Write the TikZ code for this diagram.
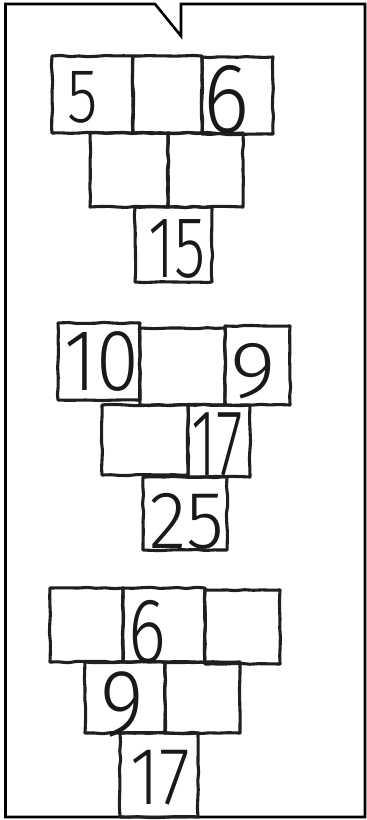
\documentclass[tikz,border=0pt]{standalone}
\usepackage{fontspec}
\IfFontExistsTF{Fira Sans Light}{\newfontfamily\hand{Fira Sans Light}}{\newfontfamily\hand{Fira Sans}}
\usetikzlibrary{decorations.pathmorphing}
\tikzset{
  frameline/.style={line width=2.6pt, draw=black, line join=miter},
  cell/.style={draw=black!88, line width=3.1pt, rectangle, inner sep=0pt, line join=round,
    decorate, decoration={random steps, segment length=9pt, amplitude=0.7pt}},
  digit/.style={font=\hand\fontsize{80}{80}\selectfont, inner sep=0pt, anchor=base,
    text height=0.69em, text depth=0pt, text=black!90},
}
\pgfmathsetseed{7}
\begin{document}
\begin{tikzpicture}[x=1pt, y=-1pt]
\useasboundingbox (0,0) rectangle (367,820);
% frame with speech tail
\coordinate (f1) at (5.5,4);
\coordinate (t1) at (155,4);
\coordinate (t2) at (181,36);
\coordinate (t3) at (181,4);
\coordinate (f2) at (365,4);
\coordinate (f3) at (365,817);
\coordinate (f4) at (5.5,817);
\draw[frameline] (f1) -- (t1) -- (t2) -- (t3) -- (f2) -- (f3) -- (f4) -- cycle;

% pyramid 1
\node[cell, minimum width=81pt, minimum height=77pt] (p1a) at (92.5,94.5) {};
\node[cell, minimum width=69pt, minimum height=77pt] (p1b) at (167.5,94.5) {};
\node[cell, minimum width=71pt, minimum height=77pt] (p1c) at (237.5,95.5) {};
\node[cell, minimum width=78pt, minimum height=74pt] (p1d) at (129,170) {};
\node[cell, minimum width=75pt, minimum height=74pt] (p1e) at (205.5,170) {};
\node[cell, minimum width=77pt, minimum height=75pt] (p1f) at (173.5,244.5) {};
\node[digit, xscale=0.78, yscale=0.96] (n5) at (83,122) {5};
\node[digit, xscale=1.1, yscale=1.24] (n6) at (227,132) {6};
\node[digit, xscale=0.8, yscale=1.09] (n15) at (177,277) {15};

% pyramid 2
\node[cell, minimum width=82pt, minimum height=77pt] (p2a) at (99,361.5) {};
\node[cell, minimum width=85pt, minimum height=77pt] (p2b) at (182.5,366.5) {};
\node[cell, minimum width=65pt, minimum height=79pt] (p2c) at (257.5,365.5) {};
\node[cell, minimum width=86pt, minimum height=70pt] (p2d) at (145,440) {};
\node[cell, minimum width=62pt, minimum height=72pt] (p2e) at (219,441) {};
\node[cell, minimum width=84pt, minimum height=73pt] (p2f) at (185,513.5) {};
\node[digit, xscale=0.97, yscale=1.09] (n10) at (102,390) {10};
\node[digit, xscale=1.1, yscale=1.0] (n9a) at (253,397) {9};
\node[digit, xscale=0.76, yscale=1.18] (n17a) at (217,475) {17};
\node[digit, xscale=0.97, yscale=1.02] (n25) at (187,548) {25};

% pyramid 3
\node[cell, minimum width=73pt, minimum height=74pt] (p3a) at (86.5,625) {};
\node[cell, minimum width=82pt, minimum height=74pt] (p3b) at (164,625) {};
\node[cell, minimum width=75pt, minimum height=74pt] (p3c) at (242.5,627) {};
\node[cell, minimum width=80pt, minimum height=71pt] (p3d) at (125,697.5) {};
\node[cell, minimum width=75pt, minimum height=71pt] (p3e) at (202.5,697.5) {};
\node[cell, minimum width=78pt, minimum height=84pt] (p3f) at (159,775) {};
\node[digit, xscale=0.9, yscale=1.15] (n6b) at (147,662) {6};
\node[digit, xscale=1.05, yscale=1.18] (n9b) at (122,735) {9};
\node[digit, xscale=0.88, yscale=1.02] (n17b) at (160,804) {17};
\end{tikzpicture}
\end{document}
